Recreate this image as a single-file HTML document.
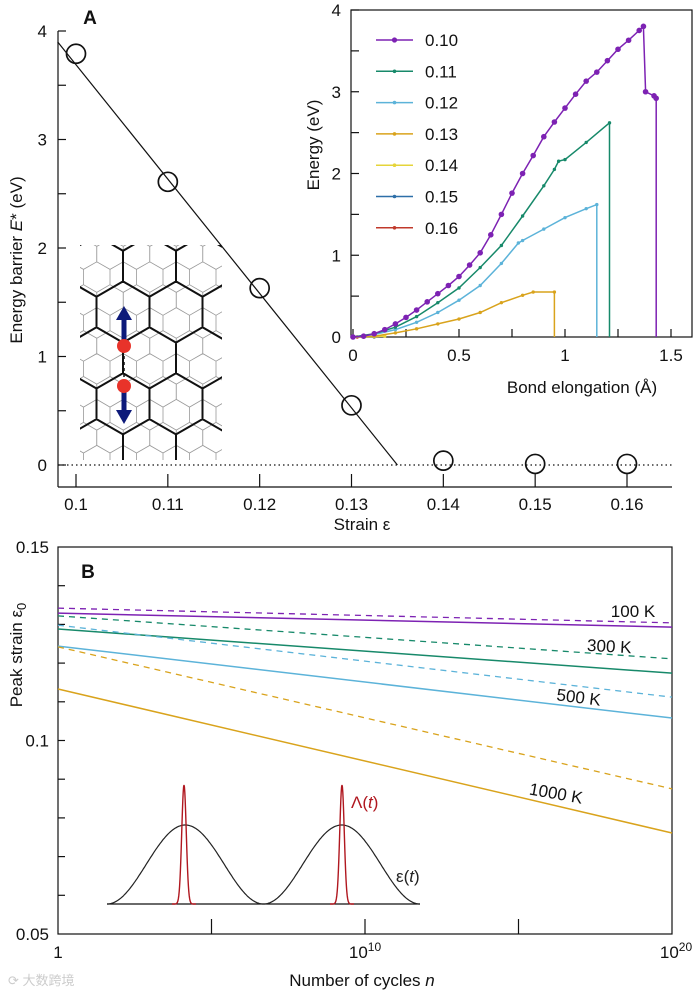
<!DOCTYPE html>
<html><head><meta charset="utf-8"><style>
html,body{margin:0;padding:0;background:#fff;}
svg{display:block;font-family:"Liberation Sans","Noto Sans CJK SC",sans-serif;}
</style></head><body>
<svg id="fig" width="694" height="998" viewBox="0 0 694 998"></svg>
<script>
// ---------- Panel A data ----------
const strainVals = [0.10, 0.11, 0.12, 0.13, 0.14, 0.15, 0.16];
const barrierVals = [3.79, 2.61, 1.63, 0.55, 0.04, 0.01, 0.01];
const fitLine = [[0.098, 3.9], [0.135, 0]];
const aXTicks = [0.1, 0.11, 0.12, 0.13, 0.14, 0.15, 0.16];
const aXTickLabels = ["0.1", "0.11", "0.12", "0.13", "0.14", "0.15", "0.16"];
const aYTicks = [0, 1, 2, 3, 4];
// ---------- Inset data ----------
const insetSeries = ["0.10", "0.11", "0.12", "0.13", "0.14", "0.15", "0.16"];
const insetColors = ["#7d22b3", "#17896a", "#5cb3d9", "#d9a31c", "#e5d43a", "#2d6fa8", "#c0392b"];
const x010 = [0,0.05,0.1,0.15,0.2,0.25,0.3,0.35,0.4,0.45,0.5,0.55,0.6,0.65,0.7,0.75,0.8,0.85,0.9,0.95,1.0,1.05,1.1,1.15,1.2,1.25,1.3,1.35,1.37,1.38,1.42,1.43,1.43];
const y010 = [0,0.01,0.04,0.09,0.16,0.24,0.33,0.43,0.53,0.63,0.74,0.88,1.03,1.25,1.5,1.76,2.0,2.22,2.45,2.63,2.8,2.97,3.13,3.24,3.38,3.52,3.63,3.75,3.8,3.0,2.95,2.92,0];
const x011 = [0,0.1,0.2,0.3,0.4,0.5,0.6,0.7,0.8,0.9,0.95,0.97,1.0,1.1,1.21,1.21];
const y011 = [0,0.04,0.12,0.25,0.42,0.6,0.85,1.12,1.48,1.85,2.05,2.15,2.17,2.38,2.62,0];
const x012 = [0,0.1,0.2,0.3,0.4,0.5,0.6,0.7,0.78,0.8,0.9,1.0,1.1,1.15,1.15];
const y012 = [0,0.03,0.09,0.18,0.3,0.45,0.63,0.9,1.15,1.18,1.32,1.46,1.57,1.62,0];
const x013 = [0,0.1,0.2,0.3,0.4,0.5,0.6,0.7,0.8,0.85,0.95,0.95];
const y013 = [0,0.01,0.05,0.1,0.16,0.22,0.3,0.42,0.51,0.55,0.55,0];
const x014 = [0,0.05,0.1,0.15];
const y014 = [0,0,0.005,0.01];
const x015 = [0,0.05,0.1];
const y015 = [0,0,0];
const x016 = [0,0.02];
const y016 = [0,0];
const insetX = [x010,x011,x012,x013,x014,x015,x016];
const insetY = [y010,y011,y012,y013,y014,y015,y016];
const inXTicks = [0, 0.5, 1, 1.5];
const inXTickLabels = ["0", "0.5", "1", "1.5"];
const inYTicks = [0, 1, 2, 3, 4];
// ---------- Panel B data ----------
const tempLabels = ["100 K", "300 K", "500 K", "1000 K"];
const bColors = ["#7d22b3", "#17896a", "#5cb3d9", "#d9a31c"];
const logN = [0, 20];
const solidStart = [0.1329, 0.1288, 0.1244, 0.1133];
const solidEnd = [0.1293, 0.1174, 0.1058, 0.0761];
const dashStart = [0.1342, 0.1322, 0.1298, 0.1242];
const dashEnd = [0.1304, 0.1211, 0.1112, 0.0875];
const bYTicks = [0.05, 0.1, 0.15];
const bYTickLabels = ["0.05", "0.1", "0.15"];

const NS = "http://www.w3.org/2000/svg";
const svg = document.getElementById('fig');
function el(tag, attrs, parent) {
  const e = document.createElementNS(NS, tag);
  for (const k in attrs) e.setAttribute(k, attrs[k]);
  (parent || svg).appendChild(e);
  return e;
}
function txt(s, x, y, size, anchor, parent, extra) {
  const t = el('text', Object.assign({x: x, y: y, 'font-size': size, 'text-anchor': anchor || 'middle', fill: '#111'}, extra || {}), parent);
  t.textContent = s;
  return t;
}

// ---------- Panel A axes ----------
const ax = v => 76 + (v - 0.1) / 0.06 * 551;
const ay = v => 465 - v * 108.5;
const gA = el('g', {});



const tube = el('g', {}, gA);


const defs = el('defs', {});
const cp = el('clipPath', {id: 'tubeclip'}, defs);
el('rect', {x: 80, y: 245, width: 142, height: 215}, cp);
const tg = el('g', {'clip-path': 'url(#tubeclip)'}, tube);
function hexGrid(cx0, cy0, w, s, stroke, sw) {
  let d = '';
  for (let j = -8; j <= 10; j++) {
    for (let i = -8; i <= 8; i++) {
      const cx = cx0 + i * w + ((j & 1) ? w / 2 : 0);
      const cy = cy0 + j * 1.5 * s;
      if (cx < 40 || cx > 270 || cy < 200 || cy > 500) continue;
      for (let k = 0; k < 6; k++) {
        const a = Math.PI / 180 * (30 + 60 * k);
        const px = cx + s * Math.cos(a), py = cy + s * Math.sin(a);
        d += (k ? 'L' : 'M') + px.toFixed(1) + ' ' + py.toFixed(1);
      }
      d += 'Z';
    }
  }
  el('path', {d: d, fill: 'none', stroke: stroke, 'stroke-width': sw}, tg);
}
hexGrid(110, 300, 26.5, 15.3, '#999', 0.8);
hexGrid(123, 312, 53, 30.6, '#111', 2);
el('line', {x1: 124, y1: 350, x2: 124, y2: 382, stroke: '#111', 'stroke-width': 1.5, 'stroke-dasharray': '3,3'}, tube);
el('line', {x1: 124, y1: 340, x2: 124, y2: 318, stroke: '#0d1a7a', 'stroke-width': 5}, tube);
el('polygon', {points: '116,320 132,320 124,306', fill: '#0d1a7a'}, tube);
el('line', {x1: 124, y1: 392, x2: 124, y2: 412, stroke: '#0d1a7a', 'stroke-width': 5}, tube);
el('polygon', {points: '116,410 132,410 124,424', fill: '#0d1a7a'}, tube);
el('circle', {cx: 124, cy: 346, r: 7, fill: '#e8332a'}, tube);
el('circle', {cx: 124, cy: 386, r: 7, fill: '#e8332a'}, tube);

el('line', {x1: 58, y1: 31, x2: 58, y2: 487, stroke: '#111', 'stroke-width': 1.2}, gA);
el('line', {x1: 58, y1: 487, x2: 672, y2: 487, stroke: '#111', 'stroke-width': 1.2}, gA);
for (let v = 0; v <= 4.001; v += 0.5) {
  el('line', {x1: 58, y1: ay(v), x2: 66, y2: ay(v), stroke: '#111', 'stroke-width': 1.2}, gA);
}
aYTicks.forEach(v => {
  const t = txt(String(v), 47, ay(v) + 6, 17, 'end', gA);
  
  
});
aXTicks.forEach((v, i) => {
  el('line', {x1: ax(v), y1: 487, x2: ax(v), y2: 474, stroke: '#111', 'stroke-width': 1.2}, gA);
  const t = txt(aXTickLabels[i], ax(v), 510, 17, 'middle', gA);
  
  
});
el('line', {x1: 58, y1: ay(0), x2: 672, y2: ay(0), stroke: '#111', 'stroke-width': 1.2, 'stroke-dasharray': '1.5,3'}, gA);
const fl = el('line', {x1: ax(fitLine[0][0]), y1: ay(fitLine[0][1]), x2: ax(fitLine[1][0]), y2: ay(fitLine[1][1]), stroke: '#111', 'stroke-width': 1.2}, gA);


strainVals.forEach((s, i) => {
  const c = el('circle', {cx: ax(s), cy: ay(barrierVals[i]), r: 9.5, fill: 'none', stroke: '#111', 'stroke-width': 1.7}, gA);
  
  
});
let t;
t = txt('A', 90, 24, 19, 'middle', gA, {'font-weight': 'bold'});
 
t = txt('Strain ε', 362, 530, 17, 'middle', gA);
 
t = el('text', {x: 0, y: 0, 'font-size': 17, 'text-anchor': 'middle', fill: '#111', transform: 'translate(22,260) rotate(-90)'}, gA);
t.innerHTML = 'Energy barrier <tspan font-style="italic">E</tspan>* (eV)';
 

// ---------- Inset ----------
const ix = v => 353 + v * 212;
const iy = v => 337 - v * 81.75;
const gI = el('g', {});


el('rect', {x: 351, y: 10, width: 341, height: 327, fill: '#fff', stroke: '#111', 'stroke-width': 1.2}, gI);
for (let v = 0; v <= 4.001; v += 0.5) el('line', {x1: 351, y1: iy(v), x2: 359, y2: iy(v), stroke: '#111', 'stroke-width': 1.2}, gI);
for (let v = 0; v <= 1.5001; v += 0.25) el('line', {x1: ix(v), y1: 337, x2: ix(v), y2: 329, stroke: '#111', 'stroke-width': 1.2}, gI);
inYTicks.forEach(v => {
  const tt = txt(String(v), 341, iy(v) + 6, 17, 'end', gI);
   
});
inXTicks.forEach((v, i) => {
  const tt = txt(inXTickLabels[i], ix(v), 361, 17, 'middle', gI);
   
});
t = txt('Bond elongation (Å)', 582, 393, 17, 'middle', gI);
 
t = txt('Energy (eV)', 0, 0, 17, 'middle', gI, {transform: 'translate(319,145) rotate(-90)'});
 
for (let k = insetSeries.length - 1; k >= 0; k--) {
  const xs = insetX[k], ys = insetY[k], col = insetColors[k];
  const pts = xs.map((x, i) => ix(x).toFixed(1) + ',' + iy(ys[i]).toFixed(1)).join(' ');
  const pl = el('polyline', {points: pts, fill: 'none', stroke: col, 'stroke-width': 1.5}, gI);
  
  
  xs.forEach((x, i) => {
    if (i === xs.length - 1 && ys[i] === 0 && k < 4) return;
    el('circle', {cx: ix(x), cy: iy(ys[i]), r: k === 0 ? 2.8 : 1.7, fill: col}, gI);
  });
}
insetSeries.forEach((s, k) => {
  const y = 40 + k * 31.3;
  const lg = el('g', {}, gI);
  
  
  el('line', {x1: 376, y1: y, x2: 413, y2: y, stroke: insetColors[k], 'stroke-width': 1.5}, lg);
  el('circle', {cx: 394.5, cy: y, r: k === 0 ? 2.6 : 1.8, fill: insetColors[k]}, lg);
  txt(s, 425, y + 6, 17, 'start', lg);
});

// ---------- Panel B ----------
const bx = v => 58 + v / 20 * 614;
const by = v => 934 - (v - 0.05) / 0.1 * 387;
const gB = el('g', {});


el('rect', {x: 58, y: 547, width: 614, height: 387, fill: 'none', stroke: '#111', 'stroke-width': 1.2}, gB);
for (let v = 0.06; v < 0.1495; v += 0.01) el('line', {x1: 58, y1: by(v), x2: 65, y2: by(v), stroke: '#111', 'stroke-width': 1.2}, gB);
bYTicks.forEach((v, i) => {
  const tt = txt(bYTickLabels[i], 49, by(v) + 6, 17, 'end', gB);
   
});
[5, 10, 15].forEach(v => el('line', {x1: bx(v), y1: 934, x2: bx(v), y2: 919, stroke: '#111', 'stroke-width': 1.2}, gB));
t = txt('1', bx(0), 958, 17, 'middle', gB);  
t = el('text', {x: bx(10), y: 958, 'font-size': 17, 'text-anchor': 'middle', fill: '#111'}, gB);
t.innerHTML = '10<tspan dy="-7" font-size="12">10</tspan>';
 
t = el('text', {x: bx(20) + 4, y: 958, 'font-size': 17, 'text-anchor': 'middle', fill: '#111'}, gB);
t.innerHTML = '10<tspan dy="-7" font-size="12">20</tspan>';
 
t = el('text', {x: 362, y: 986, 'font-size': 17, 'text-anchor': 'middle', fill: '#111'}, gB);
t.innerHTML = 'Number of cycles <tspan font-style="italic">n</tspan>';
 
t = el('text', {x: 0, y: 0, 'font-size': 17, 'text-anchor': 'middle', fill: '#111', transform: 'translate(22,655) rotate(-90)'}, gB);
t.innerHTML = 'Peak strain ε<tspan dy="4" font-size="13">0</tspan>';
 
t = txt('B', 88, 578, 19, 'middle', gB, {'font-weight': 'bold'});
 
tempLabels.forEach((lab, k) => {
  const d = el('line', {x1: bx(logN[0]), y1: by(dashStart[k]), x2: bx(logN[1]), y2: by(dashEnd[k]), stroke: bColors[k], 'stroke-width': 1.3, 'stroke-dasharray': '6,5'}, gB);
  
  
  const s = el('line', {x1: bx(logN[0]), y1: by(solidStart[k]), x2: bx(logN[1]), y2: by(solidEnd[k]), stroke: bColors[k], 'stroke-width': 1.5}, gB);
  
  
});
const labPos = [[633, 617, 0], [609, 652, 3], [578, 703, 7], [555, 799, 10]];
tempLabels.forEach((lab, k) => {
  const p = labPos[k];
  const tt = txt(lab, p[0], p[1], 17, 'middle', gB, {transform: 'rotate(' + p[2] + ' ' + p[0] + ' ' + p[1] + ')'});
   
});
const gW = el('g', {}, gB);


el('line', {x1: 107, y1: 904, x2: 420, y2: 904, stroke: '#111', 'stroke-width': 1.2}, gW);
let dE = '';
for (let i = 0; i <= 300; i++) {
  const x = 107 + i * 313 / 300;
  const ph = (x - 107) / 156.5 * 2 * Math.PI;
  const y = 904 - 79 * (1 - Math.cos(ph)) / 2;
  dE += (i ? 'L' : 'M') + x.toFixed(1) + ' ' + y.toFixed(1);
}
el('path', {d: dE, fill: 'none', stroke: '#222', 'stroke-width': 1.2}, gW);
[184, 342].forEach(c => {
  let d = '';
  for (let i = 0; i <= 60; i++) {
    const x = c - 12 + i * 24 / 60;
    const y = 904 - 119 * Math.exp(-Math.pow((x - c) / 3.2, 2));
    d += (i ? 'L' : 'M') + x.toFixed(1) + ' ' + y.toFixed(1);
  }
  el('path', {d: d, fill: 'none', stroke: '#b0171f', 'stroke-width': 1.4}, gW);
});
t = el('text', {x: 351, y: 808, 'font-size': 17, fill: '#b0171f'}, gW);
t.innerHTML = 'Λ(<tspan font-style="italic">t</tspan>)';
 
t = el('text', {x: 396, y: 882, 'font-size': 17, fill: '#222'}, gW);
t.innerHTML = 'ε(<tspan font-style="italic">t</tspan>)';
 
t = txt('⟳ 大数跨境', 8, 985, 13, 'start', svg, {fill: '#ccc'});
 
</script>
</body></html>
